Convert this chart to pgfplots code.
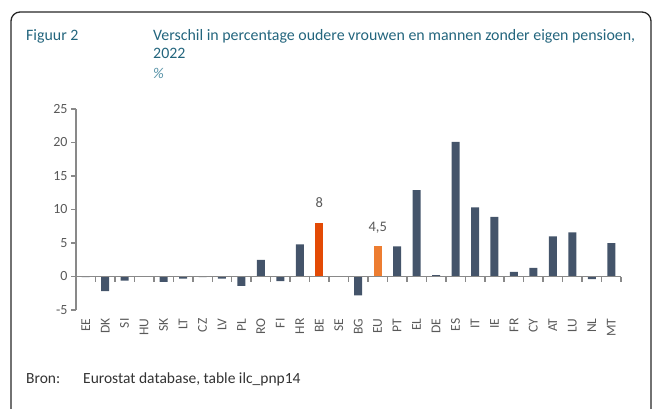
\documentclass[border=0pt]{standalone}
\usepackage{pgfplots}
\pgfplotsset{compat=1.18}
\usepackage{fontspec}
\setmainfont{Carlito}
\definecolor{barblue}{HTML}{44546A}
\definecolor{beorange}{HTML}{E34A05}
\definecolor{euorange}{HTML}{ED7D31}
\definecolor{titleteal}{HTML}{23657D}
\definecolor{pctteal}{HTML}{5A94A8}
\definecolor{axgray}{HTML}{898989}
\definecolor{lblgray}{HTML}{595959}
\begin{document}
\begin{tikzpicture}[x=1pt,y=1pt]
\useasboundingbox (0pt,0pt) rectangle (659pt,408pt);
\begin{scope}
\clip (0pt,0pt) rectangle (659pt,408pt);
\draw[line width=1.3pt, black!85, rounded corners=9pt] (11pt,-20pt) rectangle (651pt,396pt);
\end{scope}
\node[anchor=base west, font=\fontsize{15.9}{18}\selectfont, text=titleteal, inner sep=0] at (26pt,367pt) {Figuur 2};
\node[anchor=base west, font=\fontsize{15.9}{18}\selectfont, text=titleteal, inner sep=0] at (153pt,367pt) {Verschil in percentage oudere vrouwen en mannen zonder eigen pensioen,};
\node[anchor=base west, font=\fontsize{15.9}{18}\selectfont, text=titleteal, inner sep=0] at (153pt,349pt) {2022};
\node[anchor=base west, font=\fontsize{15}{18}\selectfont\itshape, text=pctteal, inner sep=0] at (153pt,329pt) {\%};
\node[anchor=base west, font=\fontsize{15.5}{18}\selectfont, text=black!80, inner sep=0] at (26pt,25pt) {Bron:};
\node[anchor=base west, font=\fontsize{15.5}{18}\selectfont, text=black!80, inner sep=0] at (83pt,25pt) {Eurostat database, table ilc\_pnp14};

\begin{axis}[at={(76pt,98pt)}, anchor=south west, scale only axis, width=545pt, height=201pt,
  xmin=-0.5, xmax=27.5, ymin=-5, ymax=25,
  axis lines*=left, x axis line style={draw=none},
  y axis line style={axgray, line width=1.5pt},
  ytick={-5,0,...,25}, tick align=outside, major tick length=5pt,
  ytick style={axgray, line width=1.5pt},
  xtick={0,...,27},
  xticklabels={EE,DK,SI,HU,SK,LT,CZ,LV,PL,RO,FI,HR,BE,SE,BG,EU,PT,EL,DE,ES,IT,IE,FR,CY,AT,LU,NL,MT},
  xtick style={draw=none},
  xticklabel style={rotate=90, anchor=east, font=\fontsize{13.5}{15}\selectfont, text=lblgray},
  yticklabel style={font=\fontsize{14}{15}\selectfont, text=lblgray},
  /pgf/number format/assume math mode=true,
  /pgf/number format/use comma,
  ybar, bar width=8pt, bar shift=0pt, clip=false]
\addplot[fill=barblue, draw=none] coordinates {
(0,-0.1) (1,-2.2) (2,-0.6) (3,0) (4,-0.8) (5,-0.3) (6,-0.1) (7,-0.3) (8,-1.4) (9,2.5)
(10,-0.7) (11,4.8) (13,0) (14,-2.8) (16,4.5) (17,12.9) (18,0.2) (19,20.1)
(20,10.3) (21,8.9) (22,0.7) (23,1.3) (24,6.0) (25,6.6) (26,-0.4) (27,5.0)};
\addplot[fill=beorange, draw=none, nodes near coords, nodes near coords style={anchor=base, yshift=15pt, font=\fontsize{14.5}{16}\selectfont, text=lblgray}] coordinates {(12,8)};
\addplot[fill=euorange, draw=none, nodes near coords, nodes near coords style={anchor=base, yshift=15pt, font=\fontsize{14.5}{16}\selectfont, text=lblgray}] coordinates {(15,4.5)};
\end{axis}
\begin{axis}[at={(76pt,98pt)}, anchor=south west, scale only axis, width=545pt, height=201pt,
  xmin=-0.5, xmax=27.5, ymin=-5, ymax=25,
  axis x line=middle, axis y line=none,
  x axis line style={axgray, line width=1.5pt, -},
  xtick={-0.5,0.5,...,27.5}, xticklabels={},
  xtick style={axgray, line width=1.5pt},
  tick align=outside, major tick length=5pt]
\end{axis}
\end{tikzpicture}
\end{document}
